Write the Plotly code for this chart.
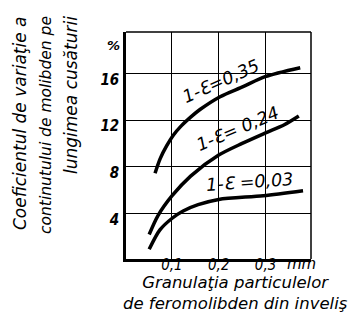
import plotly.graph_objects as go

# Data
x_035 = [0.064, 0.075, 0.089, 0.103, 0.120, 0.140, 0.160, 0.203, 0.252, 0.299, 0.374]
y_035 = [7.44, 8.70, 9.80, 10.70, 11.50, 12.25, 12.90, 14.00, 14.86, 15.71, 16.48]

x_024 = [0.0515, 0.070, 0.100, 0.140, 0.200, 0.250, 0.300, 0.340, 0.371]
y_024 = [2.20, 3.80, 5.50, 7.20, 9.00, 10.00, 10.90, 11.60, 12.35]

x_003 = [0.0515, 0.0744, 0.1006, 0.124, 0.156, 0.200, 0.295, 0.380]
y_003 = [0.93, 2.59, 3.59, 4.21, 4.75, 5.20, 5.52, 5.95]

series_labels = ["1-Ɛ=0,35", "1-Ɛ= 0,24", "1-Ɛ =0,03"]

x_tickvals = [0.1, 0.2, 0.3]
x_ticktext = ["0,1", "0,2", "0,3"]
y_tickvals = [4, 8, 12, 16]
y_ticktext = ["4", "8", "12", "16"]

x_title_lines = ["Granulaţia particulelor", "de feromolibden din inveliş"]
y_title_lines = ["Coeficientul de variaţie a", "continutului de molibden pe", "lungimea cusăturii"]

FONT_C = "DejaVu Sans Condensed, DejaVu Sans, sans-serif"
FONT = "DejaVu Sans, sans-serif"

fig = go.Figure()
for xs, ys in [(x_035, y_035), (x_024, y_024), (x_003, y_003)]:
    fig.add_trace(go.Scatter(x=xs, y=ys, mode="lines",
                             line=dict(color="black", width=3.5, shape="spline", smoothing=0.8),
                             showlegend=False, hoverinfo="skip"))

W, H = 351, 330
L, R, T, B = 126, 40, 32, 71
pw, ph = W - L - R, H - T - B

def px(xp):
    return (xp - L) / pw

def py(yp):
    return (H - B - yp) / ph

def ann(xp, yp, text, font, angle=0, xa="center", ya="middle"):
    return dict(x=px(xp), y=py(yp), xref="paper", yref="paper", text=text, showarrow=False,
                textangle=angle, xanchor=xa, yanchor=ya, font=font)

lab_font = dict(family=FONT, size=17.5, color="black", style="italic")
annotations = [
    ann(221, 81, series_labels[0], lab_font, -24),
    ann(237, 129, series_labels[1], lab_font, -23),
    ann(249, 182, series_labels[2], lab_font, -4),
    ann(113, 45, "%", dict(family=FONT, size=13, color="black", style="italic", weight="bold")),
    ann(301, 264, "mm", dict(family=FONT, size=15, color="black", style="italic")),
    ann(235, 271, "<br>".join(x_title_lines),
        dict(family=FONT, size=16.5, color="black", style="italic"), ya="top"),
]
for cx, line, sz in zip([20, 46, 71], y_title_lines, [17, 15.5, 17]):
    annotations.append(ann(cx, 14, line, dict(family=FONT, size=sz, color="black", style="italic"),
                           angle=-90, ya="top"))

shapes = [
    dict(type="line", xref="paper", yref="paper", x0=0, x1=1, y0=1, y1=1, line=dict(color="black", width=1.5)),
    dict(type="line", xref="paper", yref="paper", x0=1, x1=1, y0=0, y1=1, line=dict(color="black", width=1.5)),
]

fig.update_layout(
    width=W, height=H, margin=dict(l=L, r=R, t=T, b=B),
    paper_bgcolor="white", plot_bgcolor="white",
    annotations=annotations, shapes=shapes,
    xaxis=dict(range=[0.002, 0.397], tickvals=x_tickvals, ticktext=x_ticktext,
               showgrid=True, gridcolor="black", gridwidth=1.3, zeroline=False,
               showline=True, linecolor="black", linewidth=2.5, ticks="", ticklabelstandoff=-10,
               tickfont=dict(family=FONT_C, size=15, color="black", style="italic")),
    yaxis=dict(range=[0.1, 19.54], tickvals=y_tickvals, ticktext=y_ticktext,
               showgrid=True, gridcolor="black", gridwidth=1.3, zeroline=False,
               showline=True, linecolor="black", linewidth=2.5, ticks="", ticklabelstandoff=1,
               ticklabelshift=6,
               tickfont=dict(family=FONT_C, size=15, color="black", style="italic", weight="bold")),
)

fig.write_html("out.html")
